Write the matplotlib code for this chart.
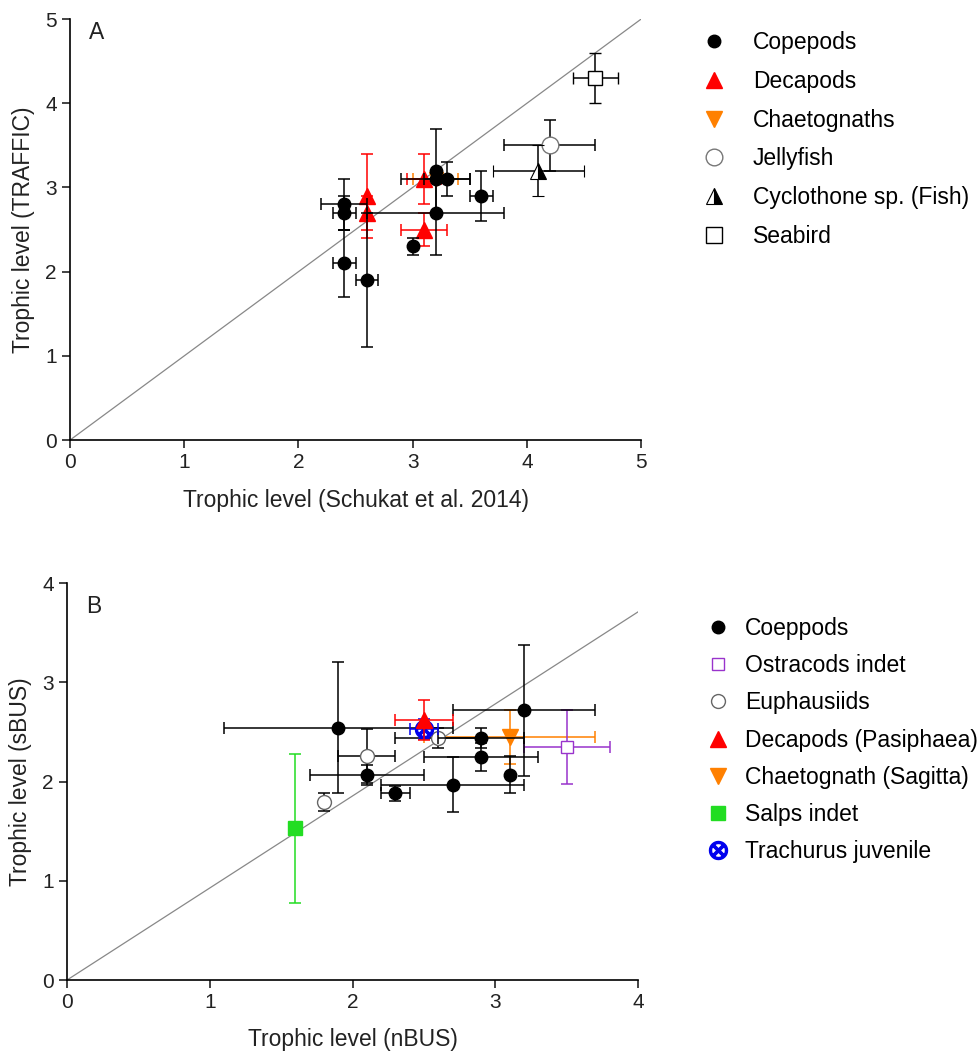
import matplotlib.pyplot as plt
from matplotlib.lines import Line2D

plt.rcParams['font.family'] = ['Liberation Sans', 'DejaVu Sans']
plt.rcParams['font.size'] = 16

# ---- Panel A data (Schukat et al. 2014 vs TRAFFIC) ----
cop_a_x = [2.4, 2.4, 2.4, 2.6, 3.0, 3.2, 3.2, 3.3, 3.2, 3.6]
cop_a_y = [2.8, 2.7, 2.1, 1.9, 2.3, 3.2, 3.1, 3.1, 2.7, 2.9]
cop_a_xerr = [0.2, 0.1, 0.1, 0.1, 0.0, 0.0, 0.3, 0.2, 0.6, 0.1]
cop_a_yerr = [0.3, 0.2, 0.4, 0.8, 0.1, 0.5, 0.0, 0.2, 0.5, 0.3]

dec_a_x = [2.6, 2.6, 3.1, 3.1]
dec_a_y = [2.9, 2.7, 3.1, 2.5]
dec_a_xerr = [0.0, 0.0, 0.15, 0.2]
dec_a_yerr = [0.5, 0.2, 0.3, 0.2]

cha_a_x, cha_a_y, cha_a_xerr, cha_a_yerr = [3.2], [3.1], [0.2], [0.0]
jel_a_x, jel_a_y, jel_a_xerr, jel_a_yerr = [4.2], [3.5], [0.4], [0.3]
cyc_a_x, cyc_a_y, cyc_a_xerr, cyc_a_yerr = [4.1], [3.2], [0.4], [0.3]
sea_a_x, sea_a_y, sea_a_xerr, sea_a_yerr = [4.6], [4.3], [0.2], [0.3]

# ---- Panel B data (nBUS vs sBUS) ----
cop_b_x = [1.9, 2.1, 2.3, 2.7, 2.9, 2.9, 3.1, 3.2]
cop_b_y = [2.54, 2.07, 1.88, 1.97, 2.44, 2.25, 2.07, 2.72]
cop_b_xerr = [0.8, 0.4, 0.1, 0.5, 0.3, 0.4, 0.0, 0.5]
cop_b_yerr = [0.66, 0.1, 0.08, 0.28, 0.1, 0.14, 0.19, 0.66]

eup_b_x = [2.1, 2.6, 1.8]
eup_b_y = [2.26, 2.44, 1.79]
eup_b_xerr = [0.2, 0.3, 0.0]
eup_b_yerr = [0.27, 0.1, 0.09]

ost_b_x, ost_b_y, ost_b_xerr, ost_b_yerr = [3.5], [2.35], [0.3], [0.37]
dec_b_x, dec_b_y, dec_b_xerr, dec_b_yerr = [2.5], [2.62], [0.2], [0.2]
cha_b_x, cha_b_y, cha_b_xerr, cha_b_yerr = [3.1], [2.45], [0.6], [0.27]
sal_b_x, sal_b_y, sal_b_xerr, sal_b_yerr = [1.6], [1.53], [0.0], [0.75]
tra_b_x, tra_b_y, tra_b_xerr, tra_b_yerr = [2.5], [2.53], [0.1], [0.1]

diag_b_end = 3.71   # reference line in B ends below the top

RED = '#ff0000'
ORANGE = '#ff8000'
PURPLE = '#9933cc'
GREEN = '#22dd22'
BLUE = '#0000ee'

fig = plt.figure(figsize=(9.78, 10.52), dpi=100)
axA = fig.add_axes([0.0716, 0.5817, 0.584, 0.4002])
axB = fig.add_axes([0.0685, 0.0684, 0.584, 0.3774])

eb = dict(linestyle='none', capsize=4, elinewidth=1.1, capthick=1.1)


def style_axis(ax, lim):
    ax.set_xlim(0, lim)
    ax.set_ylim(0, lim)
    ax.spines['top'].set_visible(False)
    ax.spines['right'].set_visible(False)
    ax.spines['left'].set_linewidth(1.2)
    ax.spines['bottom'].set_linewidth(1.2)
    ax.tick_params(direction='out', length=6, width=1.2, labelsize=15, colors='#222222')
    ax.set_xticks(range(lim + 1))
    ax.set_yticks(range(lim + 1))


# ---------------- Panel A ----------------
axA.plot([0, 5], [0, 5], color='#888888', lw=0.9, zorder=1)
axA.errorbar(cha_a_x, cha_a_y, xerr=cha_a_xerr, yerr=cha_a_yerr, marker='v', color=ORANGE,
             ecolor=ORANGE, ms=10, zorder=2, **eb)
axA.errorbar(dec_a_x, dec_a_y, xerr=dec_a_xerr, yerr=dec_a_yerr, marker='^', color=RED,
             ecolor=RED, ms=11, zorder=3, **eb)
axA.errorbar(cop_a_x, cop_a_y, xerr=cop_a_xerr, yerr=cop_a_yerr, marker='o', color='black',
             ecolor='black', ms=9, zorder=4, **eb)
axA.errorbar(jel_a_x, jel_a_y, xerr=jel_a_xerr, yerr=jel_a_yerr, marker='o', mfc='white',
             mec='#777777', ecolor='black', ms=12, zorder=3, **eb)
axA.errorbar(cyc_a_x, cyc_a_y, xerr=cyc_a_xerr, yerr=cyc_a_yerr, marker='^', fillstyle='right',
             mfc='black', mfcalt='white', mec='black', mew=0.8, ecolor='black', ms=12, zorder=4, **eb)
axA.errorbar(sea_a_x, sea_a_y, xerr=sea_a_xerr, yerr=sea_a_yerr, marker='s', mfc='white',
             mec='black', mew=1.0, ecolor='black', ms=10, zorder=4, **eb)
style_axis(axA, 5)
axA.set_xlabel('Trophic level (Schukat et al. 2014)', fontsize=16.5, color='#222222', labelpad=12)
axA.set_ylabel('Trophic level (TRAFFIC)', fontsize=16.5, color='#222222', labelpad=7)
axA.text(0.047, 0.967, 'A', transform=axA.transAxes, fontsize=16.5, color='#222222',
         ha='center', va='center')

handles_a = [
    Line2D([], [], ls='none', marker='o', color='black', ms=9),
    Line2D([], [], ls='none', marker='^', color=RED, ms=11),
    Line2D([], [], ls='none', marker='v', color=ORANGE, ms=11),
    Line2D([], [], ls='none', marker='o', mfc='white', mec='#777777', ms=12),
    Line2D([], [], ls='none', marker='^', fillstyle='right', mfc='black', mfcalt='white',
           mec='black', mew=0.8, ms=12),
    Line2D([], [], ls='none', marker='s', mfc='white', mec='black', ms=11),
]
labels_a = ['Copepods', 'Decapods', 'Chaetognaths', 'Jellyfish', 'Cyclothone sp. (Fish)', 'Seabird']
fig.legend(handles_a, labels_a, loc='upper left', bbox_to_anchor=(0.7183, 0.9705),
           frameon=False, fontsize=16.5, handlelength=1.0, handletextpad=1.2,
           borderpad=0, borderaxespad=0, labelspacing=0.69)

# ---------------- Panel B ----------------
axB.plot([0, 4], [0, diag_b_end], color='#888888', lw=0.9, zorder=1)
axB.errorbar(sal_b_x, sal_b_y, xerr=sal_b_xerr, yerr=sal_b_yerr, marker='s', color=GREEN,
             ecolor=GREEN, ms=10, zorder=3, **eb)
axB.errorbar(ost_b_x, ost_b_y, xerr=ost_b_xerr, yerr=ost_b_yerr, marker='s', mfc='white',
             mec=PURPLE, ecolor=PURPLE, ms=8, zorder=3, **eb)
axB.errorbar(cha_b_x, cha_b_y, xerr=cha_b_xerr, yerr=cha_b_yerr, marker='v', color=ORANGE,
             ecolor=ORANGE, ms=11, zorder=2, **eb)
axB.errorbar(cop_b_x, cop_b_y, xerr=cop_b_xerr, yerr=cop_b_yerr, marker='o', color='black',
             ecolor='black', ms=9, zorder=4, **eb)
axB.errorbar(eup_b_x, eup_b_y, xerr=eup_b_xerr, yerr=eup_b_yerr, marker='o', mfc='white',
             mec='#666666', ecolor='black', ms=10, zorder=3, **eb)
axB.errorbar(tra_b_x, tra_b_y, xerr=tra_b_xerr, yerr=tra_b_yerr, marker='$\\otimes$', color=BLUE,
             ecolor=BLUE, ms=13, zorder=5, **eb)
axB.errorbar(dec_b_x, dec_b_y, xerr=dec_b_xerr, yerr=dec_b_yerr, marker='^', color=RED,
             ecolor=RED, ms=11, zorder=6, **eb)
style_axis(axB, 4)
axB.set_xlabel('Trophic level (nBUS)', fontsize=16.5, color='#222222', labelpad=11)
axB.set_ylabel('Trophic level (sBUS)', fontsize=16.5, color='#222222', labelpad=7)
axB.text(0.046, 0.94, 'B', transform=axB.transAxes, fontsize=16.5, color='#222222',
         ha='center', va='center')

handles_b = [
    Line2D([], [], ls='none', marker='o', color='black', ms=9),
    Line2D([], [], ls='none', marker='s', mfc='white', mec=PURPLE, ms=8),
    Line2D([], [], ls='none', marker='o', mfc='white', mec='#666666', ms=10),
    Line2D([], [], ls='none', marker='^', color=RED, ms=11),
    Line2D([], [], ls='none', marker='v', color=ORANGE, ms=11),
    Line2D([], [], ls='none', marker='s', color=GREEN, ms=10),
    Line2D([], [], ls='none', marker='$\\otimes$', color=BLUE, ms=13),
]
labels_b = ['Coeppods', 'Ostracods indet', 'Euphausiids', 'Decapods (Pasiphaea)',
            'Chaetognath (Sagitta)', 'Salps indet', 'Trachurus juvenile']
fig.legend(handles_b, labels_b, loc='upper left', bbox_to_anchor=(0.7224, 0.4135),
           frameon=False, fontsize=16.5, handlelength=1.0, handletextpad=0.67,
           borderpad=0, borderaxespad=0, labelspacing=0.62)

fig.savefig('out.png', dpi=100)
